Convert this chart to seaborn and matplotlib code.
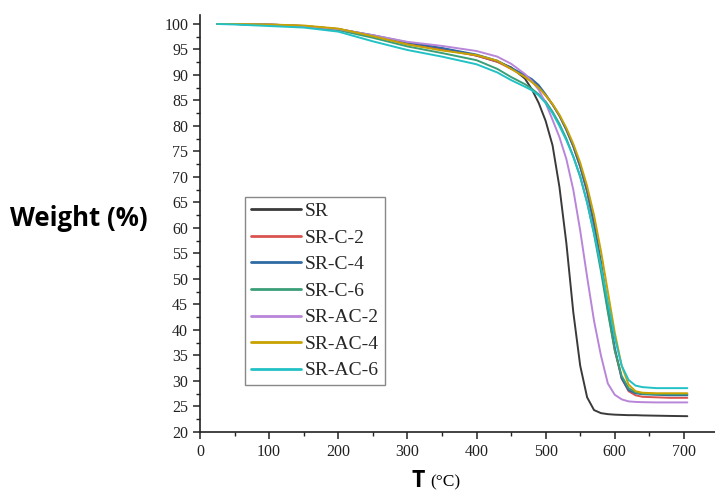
import numpy as np
import pandas as pd
import matplotlib
matplotlib.use("Agg")
import matplotlib.pyplot as plt
import seaborn as sns
from matplotlib.ticker import MultipleLocator

T = [25, 50, 100, 150, 200, 250, 300, 350, 400, 430, 450, 470, 480, 490, 500, 510,
     520, 530, 540, 550, 560, 570, 580, 590, 600, 610, 620, 630, 640, 660, 680, 705]

sr = [100, 100, 99.8, 99.5, 98.9, 97.6, 96.3, 95.2, 93.8, 92.6, 91.5, 89.3, 87.2, 84.5, 81.0, 76.2,
      68.0, 57.0, 43.5, 33.0, 26.8, 24.3, 23.7, 23.5, 23.4, 23.35, 23.3, 23.3, 23.25, 23.2, 23.15, 23.1]
sr_c2 = [100, 100, 99.9, 99.6, 99.0, 97.7, 96.0, 95.0, 93.8, 92.6, 91.2, 89.8, 88.8, 87.6, 86.0, 84.2,
         82.0, 79.3, 76.0, 72.0, 67.0, 60.5, 52.5, 44.0, 36.0, 30.5, 28.0, 27.2, 26.9, 26.8, 26.7, 26.7]
sr_c4 = [100, 100, 99.9, 99.6, 99.0, 97.8, 96.4, 95.3, 94.0, 92.8, 91.4, 90.0, 89.2, 88.0, 86.2, 84.2,
         82.0, 79.2, 76.0, 72.0, 67.3, 61.0, 53.5, 44.5, 36.5, 30.5, 28.2, 27.6, 27.4, 27.3, 27.2, 27.2]
sr_c6 = [100, 100, 99.8, 99.5, 98.8, 97.3, 95.6, 94.3, 92.9, 91.2, 89.6, 88.2, 87.3, 86.2, 84.8, 82.8,
         80.4, 77.5, 74.0, 70.0, 65.0, 58.8, 51.5, 43.5, 36.0, 31.0, 28.6, 27.8, 27.5, 27.4, 27.4, 27.4]
sr_ac2 = [100, 100, 99.9, 99.6, 99.0, 97.8, 96.5, 95.7, 94.7, 93.6, 92.2, 90.2, 88.8, 87.1, 84.5, 81.2,
          77.8, 73.5, 67.5, 59.5, 50.4, 41.8, 35.0, 29.5, 27.3, 26.4, 26.0, 25.9, 25.85, 25.8, 25.8, 25.8]
sr_ac4 = [100, 100, 99.9, 99.7, 99.1, 97.6, 96.0, 94.8, 93.9, 92.8, 91.2, 89.6, 88.6, 87.5, 86.0, 84.3,
          82.2, 79.6, 76.5, 72.8, 68.2, 62.5, 55.5, 47.5, 39.5, 33.0, 29.3, 28.0, 27.7, 27.6, 27.6, 27.6]
sr_ac6 = [100, 99.9, 99.6, 99.3, 98.5, 96.6, 94.9, 93.6, 92.1, 90.5, 89.0, 87.7, 87.0, 86.0, 84.5, 82.5,
          80.0, 77.2, 74.0, 70.2, 65.0, 59.0, 52.5, 45.5, 38.5, 33.0, 30.2, 29.1, 28.8, 28.6, 28.6, 28.6]

names = ["SR", "SR-C-2", "SR-C-4", "SR-C-6", "SR-AC-2", "SR-AC-4", "SR-AC-6"]
series = [sr, sr_c2, sr_c4, sr_c6, sr_ac2, sr_ac4, sr_ac6]
colors = ["#3a3a3a", "#d9534f", "#2f6aa3", "#3a9e78", "#b985d9", "#c8a200", "#22c1c6"]

df = pd.concat([pd.DataFrame({"T": T, "W": s, "Sample": n}) for n, s in zip(names, series)],
               ignore_index=True)

sns.set_theme(style="ticks")
plt.rcParams["font.family"] = ["Liberation Serif", "DejaVu Serif"]

fig = plt.figure(figsize=(7.15, 4.96), dpi=100)
ax = fig.add_axes([200 / 715, 1 - 432 / 496, 515 / 715, (432 - 14.8) / 496])

sns.lineplot(data=df, x="T", y="W", hue="Sample", hue_order=names,
             palette=dict(zip(names, colors)), linewidth=1.4, ax=ax, legend=False)

ax.set_xlim(0, 745)
ax.set_ylim(20, 101.8)
ax.xaxis.set_major_locator(MultipleLocator(100))
ax.xaxis.set_minor_locator(MultipleLocator(50))
ax.yaxis.set_major_locator(MultipleLocator(5))
ax.yaxis.set_minor_locator(MultipleLocator(2.5))
ax.tick_params(which="major", direction="out", length=5, width=1.1, labelsize=11.5, colors="#222222")
ax.tick_params(which="minor", direction="out", length=3, width=1.0, colors="#222222")
for s in ["top", "right"]:
    ax.spines[s].set_visible(False)
for s in ["left", "bottom"]:
    ax.spines[s].set_linewidth(1.2)
    ax.spines[s].set_color("#222222")
ax.set_xlabel("")
ax.set_ylabel("")

handles = [plt.Line2D([], [], color=c, lw=2) for c in colors]
leg = ax.legend(handles, names, loc="upper left", bbox_to_anchor=(0.087, 0.564),
                borderaxespad=0, frameon=True, fancybox=False, framealpha=1,
                edgecolor="#888888", prop={"family": "Liberation Serif", "size": 14},
                handlelength=2.6, handletextpad=0.2, labelspacing=0.46, borderpad=0.3)
leg.get_frame().set_linewidth(1.0)

fig.text(10 / 715, 1 - 219 / 496, "Weight (%)", ha="left", va="center",
         fontsize=18.5, fontweight="bold", family=["Open Sans", "DejaVu Sans"], color="black")
fig.text(425 / 715, 9 / 496, "T", ha="right", va="baseline",
         fontsize=16.5, fontweight="bold", family=["Open Sans", "DejaVu Sans"], color="black")
fig.text(430 / 715, 10 / 496, "(°C)", ha="left", va="baseline",
         fontsize=12.5, family=["Liberation Serif", "DejaVu Serif"], color="black")

fig.savefig("out.png", dpi=100)
